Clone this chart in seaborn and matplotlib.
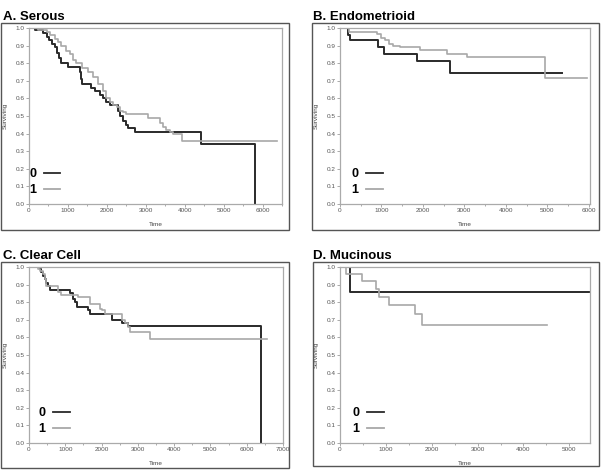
import matplotlib
matplotlib.use('Agg')
import matplotlib.pyplot as plt
from matplotlib.patches import Rectangle
from matplotlib.ticker import MultipleLocator
import seaborn as sns
import pandas as pd

# Kaplan-Meier step values (time, surviving)
serous_t0 = [0, 150, 360, 450, 520, 600, 680, 720, 770, 810, 1000, 1300, 1340, 1370, 1600, 1690,
             1820, 1900, 1990, 2070, 2290, 2330, 2420, 2500, 2550, 2720, 4430, 5800]
serous_s0 = [1.0, 0.99, 0.97, 0.95, 0.93, 0.91, 0.89, 0.86, 0.83, 0.80, 0.78, 0.75, 0.71, 0.68,
             0.66, 0.64, 0.62, 0.60, 0.58, 0.56, 0.53, 0.50, 0.47, 0.45, 0.43, 0.41, 0.34, 0.0]
serous_t1 = [0, 230, 450, 550, 660, 750, 830, 940, 1050, 1130, 1220, 1350, 1520, 1650, 1780, 1900,
             1990, 2080, 2160, 2250, 2330, 2420, 2500, 3060, 3360, 3450, 3530, 3620, 3700, 3920, 6360]
serous_s1 = [1.0, 0.99, 0.98, 0.96, 0.94, 0.92, 0.90, 0.87, 0.85, 0.82, 0.80, 0.77, 0.75, 0.72,
             0.68, 0.64, 0.60, 0.58, 0.56, 0.55, 0.53, 0.52, 0.51, 0.49, 0.46, 0.44, 0.42, 0.41,
             0.40, 0.36, 0.36]

endo_t0 = [0, 185, 200, 240, 925, 1050, 1850, 2650, 5350]
endo_s0 = [1.0, 0.98, 0.96, 0.93, 0.89, 0.855, 0.81, 0.745, 0.745]
endo_t1 = [0, 220, 900, 1000, 1090, 1170, 1290, 1450, 1935, 2580, 3065, 4950, 5950]
endo_s1 = [1.0, 0.98, 0.965, 0.945, 0.93, 0.91, 0.90, 0.89, 0.875, 0.855, 0.835, 0.715, 0.715]

clear_t0 = [0, 295, 340, 390, 430, 480, 525, 570, 800, 1120, 1215, 1260, 1325, 1630, 1675, 2275,
            2550, 2640, 2715, 6390]
clear_s0 = [1.0, 0.99, 0.97, 0.95, 0.93, 0.91, 0.89, 0.87, 0.87, 0.85, 0.82, 0.80, 0.775, 0.755,
            0.735, 0.70, 0.68, 0.68, 0.665, 0.0]
clear_t1 = [0, 250, 300, 390, 430, 480, 800, 890, 1350, 1675, 1950, 2000, 2090, 2550, 2640, 2715,
            2780, 3330, 6560]
clear_s1 = [1.0, 0.99, 0.98, 0.96, 0.93, 0.89, 0.86, 0.84, 0.83, 0.79, 0.76, 0.755, 0.735, 0.70,
            0.68, 0.66, 0.63, 0.59, 0.59]

muc_t0 = [0, 215, 5430]
muc_s0 = [1.0, 0.86, 0.86]
muc_t1 = [0, 120, 470, 790, 850, 1065, 1640, 1785, 4520]
muc_s1 = [1.0, 0.96, 0.92, 0.875, 0.83, 0.785, 0.735, 0.67, 0.67]

titles = ['A. Serous', 'B. Endometrioid', 'C. Clear Cell', 'D. Mucinous']
x_max = [6500, 6030, 7000, 5450]
curves = [(serous_t0, serous_s0, serous_t1, serous_s1),
          (endo_t0, endo_s0, endo_t1, endo_s1),
          (clear_t0, clear_s0, clear_t1, clear_s1),
          (muc_t0, muc_s0, muc_t1, muc_s1)]

W, H = 603, 470
# pixel boxes: plot area (x0, x1, y0, y1), outer frame, title anchor, legend x
layout = [
    dict(ax=(29, 282, 28, 204), frame=(1, 289, 23, 230), title=(3, 20), leg=0.0),
    dict(ax=(340, 590, 28, 204), frame=(312, 599, 23, 230), title=(313, 20), leg=0.045),
    dict(ax=(29, 283, 267, 443), frame=(1, 289, 262, 468), title=(3, 259), leg=0.038),
    dict(ax=(340, 590, 267, 443), frame=(313, 599, 262, 466), title=(313, 259), leg=0.05),
]

plt.rcParams['font.family'] = ['Liberation Sans', 'DejaVu Sans']
fig = plt.figure(figsize=(W / 100, H / 100), dpi=100)
palette = {'0': '#2a2a2a', '1': '#a8a8a8'}

for i in range(4):
    t0, s0, t1, s1 = curves[i]
    df = pd.concat([
        pd.DataFrame({'Time': t0, 'Surviving': s0, 'group': '0'}),
        pd.DataFrame({'Time': t1, 'Surviving': s1, 'group': '1'}),
    ], ignore_index=True)
    x0, x1, y0, y1 = layout[i]['ax']
    ax = fig.add_axes([x0 / W, 1 - y1 / H, (x1 - x0) / W, (y1 - y0) / H])
    sns.lineplot(data=df, x='Time', y='Surviving', hue='group', palette=palette,
                 estimator=None, drawstyle='steps-post', linewidth=1.2, ax=ax)
    ax.lines[0].set_linewidth(1.4)
    ax.set_xlim(0, x_max[i])
    ax.set_ylim(0, 1.0)
    ax.xaxis.set_major_locator(MultipleLocator(1000))
    ax.xaxis.set_minor_locator(MultipleLocator(500))
    ax.yaxis.set_major_locator(MultipleLocator(0.1))
    ax.yaxis.set_major_formatter(matplotlib.ticker.FormatStrFormatter('%.1f'))
    ax.tick_params(which='both', direction='out', length=2.2, width=0.5, colors='#888888',
                   labelsize=4.6, pad=1, labelcolor='#555555')
    ax.tick_params(which='minor', length=1.2)
    for sp in ax.spines.values():
        sp.set_color('#aaaaaa')
        sp.set_linewidth(0.9)
    ax.set_xlabel('Time', fontsize=4.6, color='#444444')
    ax.set_ylabel('Surviving', fontsize=4.6, color='#444444')
    ax.xaxis.set_label_coords(0.5, -0.1)
    ax.yaxis.set_label_coords(-0.085, 0.5)

    leg = ax.legend(loc='lower left', bbox_to_anchor=(layout[i]['leg'], 0.045),
                    frameon=False, markerfirst=False, handlelength=1.35,
                    handletextpad=0.6, labelspacing=0.3, borderpad=0, borderaxespad=0,
                    prop={'weight': 'bold', 'size': 9})
    for h in leg.legend_handles:
        h.set_linewidth(1.3)

    fx0, fx1, fy0, fy1 = layout[i]['frame']
    fig.patches.append(Rectangle((fx0 / W, 1 - fy1 / H), (fx1 - fx0) / W, (fy1 - fy0) / H,
                                 transform=fig.transFigure, fill=False,
                                 edgecolor='#555555', linewidth=1.0))
    tx, ty = layout[i]['title']
    fig.text(tx / W, 1 - ty / H, titles[i], fontsize=9.5, fontweight='bold',
             ha='left', va='baseline')

fig.savefig('out.png', dpi=100)
